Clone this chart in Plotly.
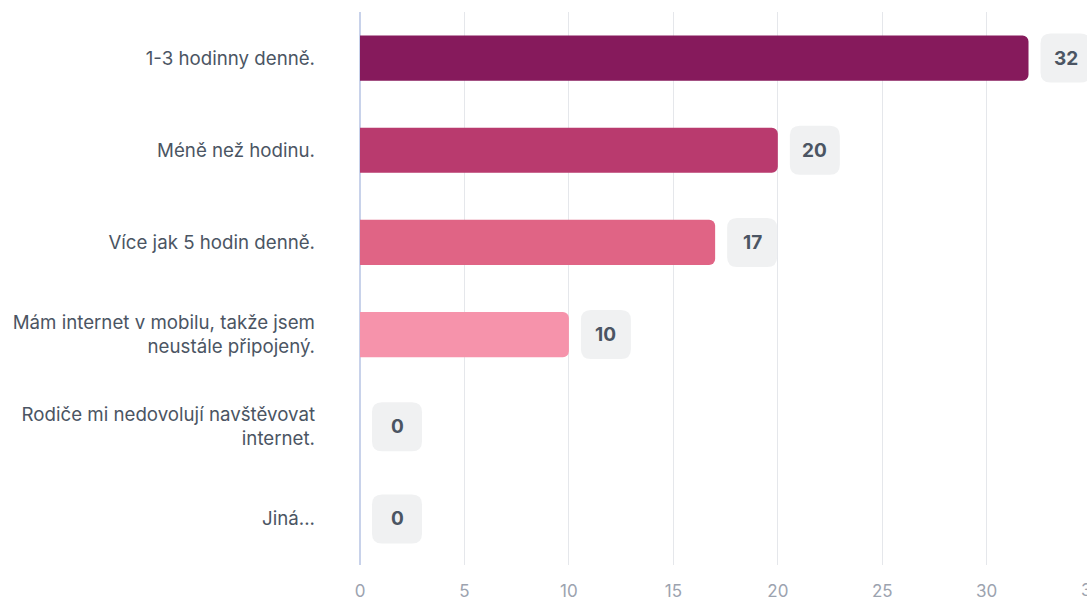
import plotly.graph_objects as go

categories = [
    "1-3 hodinny denně.",
    "Méně než hodinu.",
    "Více jak 5 hodin denně.",
    "Mám internet v mobilu, takže jsem<br>neustále připojený.",
    "Rodiče mi nedovolují navštěvovat<br>internet.",
    "Jiná...",
]
values = [32, 20, 17, 10, 0, 0]
bar_colors = ["#861a5c", "#b93a6e", "#e06485", "#f693ab", "#f693ab", "#f693ab"]
tick_values = [0, 5, 10, 15, 20, 25, 30, 35]

FONT = "Inter"
X_MAX = 34.8

fig = go.Figure()
fig.add_trace(go.Bar(
    y=categories, x=values, orientation="h",
    marker=dict(color=bar_colors, cornerradius=6, line=dict(width=0)),
    width=0.49, hoverinfo="skip",
))

# value badges
r = 10
x0, x1, h = 12, 62, 24.5
path = (f"M {x0+r},{-h} L {x1-r},{-h} Q {x1},{-h} {x1},{-h+r} "
        f"L {x1},{h-r} Q {x1},{h} {x1-r},{h} L {x0+r},{h} Q {x0},{h} {x0},{h-r} "
        f"L {x0},{-h+r} Q {x0},{-h} {x0+r},{-h} Z")
for cat, v in zip(categories, values):
    fig.add_shape(type="path", xref="x", yref="y", xsizemode="pixel", ysizemode="pixel",
                  xanchor=v, yanchor=cat, path=path,
                  fillcolor="#f0f1f2", line=dict(width=0), layer="above")
    fig.add_annotation(x=v, y=cat, xref="x", yref="y", text=f"<b>{v}</b>",
                       showarrow=False, xshift=37, xanchor="center",
                       font=dict(family=FONT, size=19, color="#4b5563"))

# tick labels beyond visible range (cut off at right edge)
for t in tick_values:
    if t > X_MAX:
        fig.add_annotation(x=t / X_MAX, y=0, xref="paper", yref="paper", text=str(t),
                           showarrow=False, yshift=-25, xanchor="center", yanchor="middle",
                           font=dict(family=FONT, size=17, color="#9ca3af"))

fig.update_layout(
    width=1087, height=601,
    margin=dict(l=360, r=0, t=12, b=34),
    paper_bgcolor="white", plot_bgcolor="white",
    showlegend=False,
    font=dict(family=FONT),
    xaxis=dict(range=[0, X_MAX], tickvals=tick_values, showgrid=True,
               gridcolor="#e5e7eb", gridwidth=1, zeroline=True,
               zerolinecolor="#c8d2ea", zerolinewidth=1.5,
               tickfont=dict(family=FONT, size=17, color="#9ca3af"),
               ticks="outside", ticklen=11, tickcolor="rgba(0,0,0,0)",
               showline=False, fixedrange=True),
    yaxis=dict(autorange="reversed", showgrid=False, zeroline=False,
               tickfont=dict(family=FONT, size=18.7, color="#4b5563"),
               ticklabelstandoff=44, showline=False, fixedrange=True),
)

fig.write_html("out.html", config={"displayModeBar": False},
               post_script="document.body.style.margin='0';document.body.style.overflow='hidden';")
